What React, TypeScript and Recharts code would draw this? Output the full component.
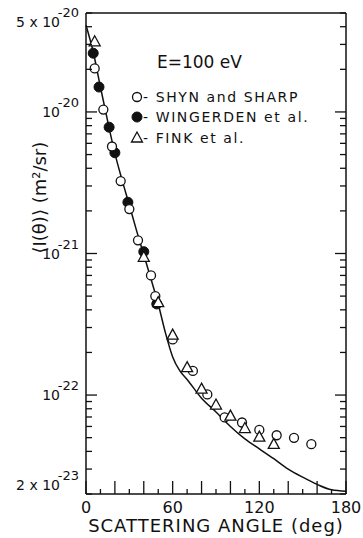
import React from "react";
import { ComposedChart, Line, Scatter, XAxis, YAxis, Legend } from "recharts";

// theory curve
const curveAngles = [0, 5, 10, 15, 20, 25, 30, 35, 40, 45, 50, 55, 60, 65, 70, 80, 90, 100, 110, 120, 130, 140, 150, 160, 170, 180];
const curveValues = [
  4.1e-20, 2.65e-20, 1.5e-20, 8.6e-21, 5.1e-21, 3.3e-21, 2.2e-21, 1.45e-21, 9.8e-22, 6.6e-22,
  4.4e-22, 2.75e-22, 1.86e-22, 1.48e-22, 1.29e-22, 9.5e-23, 7.6e-23, 6.0e-23, 4.9e-23, 4.17e-23,
  3.55e-23, 3.0e-23, 2.63e-23, 2.34e-23, 2.14e-23, 2.09e-23,
];

// Shyn and Sharp (open circles)
const shynAngles = [6, 12, 18, 24, 30, 36, 45, 48, 60, 74, 84, 96, 108, 120, 132, 144, 156];
const shynValues = [
  2.03e-20, 1.04e-20, 5.7e-21, 3.25e-21, 2.06e-21, 1.24e-21, 7.0e-22, 5.0e-22, 2.47e-22,
  1.48e-22, 1.01e-22, 6.95e-23, 6.4e-23, 5.67e-23, 5.2e-23, 4.99e-23, 4.5e-23,
];

// Wingerden et al. (filled circles)
const wingerdenAngles = [5, 9, 16, 20, 29, 40, 49];
const wingerdenValues = [2.6e-20, 1.5e-20, 7.8e-21, 5.15e-21, 2.3e-21, 1.03e-21, 4.4e-22];

// Fink et al. (triangles)
const finkAngles = [6, 40, 50, 60, 70, 80, 90, 100, 110, 120, 130];
const finkValues = [3.13e-20, 9.4e-22, 4.5e-22, 2.65e-22, 1.56e-22, 1.1e-22, 8.5e-23, 7.1e-23, 5.8e-23, 5.04e-23, 4.48e-23];

const xTicks = [0, 10, 20, 30, 40, 50, 60, 70, 80, 90, 100, 110, 120, 130, 140, 150, 160, 170, 180];
const xLabels = [0, 60, 120, 180];
const yMin = 2e-23;
const yMax = 5e-20;
const yExps = [-23, -22, -21, -20];
const yMantissas = [1, 2, 3, 4, 5, 6, 7, 8, 9];
const yLabels = [
  { value: 5e-20, text: "5 x 10", exp: "-20" },
  { value: 1e-20, text: "10", exp: "-20" },
  { value: 1e-21, text: "10", exp: "-21" },
  { value: 1e-22, text: "10", exp: "-22" },
  { value: 2e-23, text: "2 x 10", exp: "-23" },
];

const toPoints = (xs: number[], ys: number[]) => xs.map((x, i) => ({ x, y: ys[i] }));
const curveData = toPoints(curveAngles, curveValues);
const shynData = toPoints(shynAngles, shynValues);
const wingerdenData = toPoints(wingerdenAngles, wingerdenValues);
const finkData = toPoints(finkAngles, finkValues);

const yTicks: number[] = [];
yExps.forEach((e) => yMantissas.forEach((m) => {
  const v = Number(`${m}e${e}`);
  if (v >= yMin && v <= yMax) yTicks.push(v);
}));

const FONT = "'DejaVu Sans', sans-serif";
const INK = "#111";

const isDecade = (v: number) => {
  const l = Math.log10(v);
  return Math.abs(l - Math.round(l)) < 1e-6;
};
const findLabel = (v: number) => yLabels.find((l) => Math.abs(v / l.value - 1) < 1e-6);

const LeftTick = (props: any) => {
  const { x, y, payload } = props;
  const v = payload.value;
  const len = isDecade(v) ? 11 : 6;
  const lab = findLabel(v);
  let shift = 0;
  if (lab && lab.value === yMax) shift = 9;
  if (lab && lab.value === yMin) shift = -9;
  return (
    <g>
      <line x1={x} x2={x + len} y1={y} y2={y} stroke={INK} strokeWidth={1.3} />
      {lab && (
        <g fontFamily={FONT} fill={INK}>
          <text x={x - 26} y={y + 5 + shift} textAnchor="end" fontSize={14}>{lab.text}</text>
          <text x={x - 7} y={y - 5 + shift} textAnchor="end" fontSize={13}>{lab.exp}</text>
        </g>
      )}
    </g>
  );
};

const RightTick = (props: any) => {
  const { x, y, payload } = props;
  const len = isDecade(payload.value) ? 11 : 6;
  return <line x1={x} x2={x - len} y1={y} y2={y} stroke={INK} strokeWidth={1.3} />;
};

const BottomTick = (props: any) => {
  const { x, y, payload } = props;
  const v = payload.value;
  const len = v % 20 === 0 ? 13 : 5;
  return (
    <g>
      <line x1={x} x2={x} y1={y} y2={y - len} stroke={INK} strokeWidth={1.3} />
      {xLabels.includes(v) && (
        <text x={x} y={y + 19} textAnchor="middle" fontSize={16} fontFamily={FONT} fill={INK}>{v}</text>
      )}
    </g>
  );
};

const TopTick = (props: any) => {
  const { x, y, payload } = props;
  const len = payload.value % 20 === 0 ? 12 : 4;
  return <line x1={x} x2={x} y1={y} y2={y + len} stroke={INK} strokeWidth={1.3} />;
};

const OpenCircle = (props: any) => (
  <circle cx={props.cx} cy={props.cy} r={4.5} fill="#fff" stroke={INK} strokeWidth={1.3} />
);
const FilledCircle = (props: any) => (
  <circle cx={props.cx} cy={props.cy} r={5} fill={INK} stroke={INK} strokeWidth={1} />
);
const Triangle = (props: any) => {
  const { cx, cy } = props;
  return (
    <polygon
      points={`${cx},${cy - 6} ${cx - 5.5},${cy + 4} ${cx + 5.5},${cy + 4}`}
      fill="#fff"
      stroke={INK}
      strokeWidth={1.3}
    />
  );
};

const legendRows = [
  { name: "SHYN and SHARP", Shape: OpenCircle, y: 97 },
  { name: "WINGERDEN et al.", Shape: FilledCircle, y: 117 },
  { name: "FINK et al.", Shape: Triangle, y: 138 },
];

const LegendBox = () => (
  <svg width={363} height={160} style={{ display: "block" }}>
    <text x={157} y={68} fontSize={17} fontFamily={FONT} fill={INK}>E=100 eV</text>
    {legendRows.map(({ name, Shape, y }) => (
      <g key={name}>
        <Shape cx={137} cy={y} />
        <text x={143} y={y + 5} fontSize={14} letterSpacing={1.6} fontFamily={FONT} fill={INK}>
          - {name}
        </text>
      </g>
    ))}
  </svg>
);

export default function App() {
  return (
    <div style={{ position: "absolute", left: 0, top: 0 }}>
      <ComposedChart width={363} height={538} margin={{ top: 8, right: 7, bottom: 4, left: 26 }}>
        <XAxis
          dataKey="x"
          type="number"
          domain={[0, 180]}
          ticks={xTicks}
          interval={0}
          height={40}
          tickSize={0}
          tickMargin={0}
          tickLine={false}
          tick={<BottomTick />}
          axisLine={{ stroke: INK, strokeWidth: 1.5 }}
          label={{ value: "SCATTERING ANGLE (deg)", position: "insideBottom", offset: 2, fontSize: 18, fill: INK, fontFamily: FONT, letterSpacing: 1 }}
        />
        <XAxis
          xAxisId="top"
          orientation="top"
          type="number"
          domain={[0, 180]}
          ticks={xTicks}
          interval={0}
          height={5}
          tickSize={0}
          tickMargin={0}
          tickLine={false}
          tick={<TopTick />}
          axisLine={{ stroke: INK, strokeWidth: 1.5 }}
        />
        <YAxis
          dataKey="y"
          scale="log"
          domain={[yMin, yMax]}
          allowDataOverflow
          ticks={yTicks}
          interval={0}
          width={60}
          tickSize={0}
          tickMargin={0}
          tickLine={false}
          tick={<LeftTick />}
          axisLine={{ stroke: INK, strokeWidth: 1.5 }}
          label={{ value: "⟨I(θ)⟩ (m²/sr)", angle: -90, position: "insideLeft", offset: 0, dx: 14, fontSize: 18, fill: INK, fontFamily: FONT }}
        />
        <YAxis
          yAxisId="right"
          orientation="right"
          scale="log"
          domain={[yMin, yMax]}
          allowDataOverflow
          ticks={yTicks}
          interval={0}
          width={10}
          tickSize={0}
          tickMargin={0}
          tickLine={false}
          tick={<RightTick />}
          axisLine={{ stroke: INK, strokeWidth: 1.5 }}
        />
        <Line data={curveData} dataKey="y" type="monotone" stroke={INK} strokeWidth={1.5} dot={false} isAnimationActive={false} />
        <Scatter data={wingerdenData} dataKey="y" shape={<FilledCircle />} isAnimationActive={false} />
        <Scatter data={shynData} dataKey="y" shape={<OpenCircle />} isAnimationActive={false} />
        <Scatter data={finkData} dataKey="y" shape={<Triangle />} isAnimationActive={false} />
        <Legend
          layout="vertical"
          align="center"
          verticalAlign="middle"
          wrapperStyle={{ position: "absolute", left: 0, top: 0, width: 363, height: 160 }}
          content={() => <LegendBox />}
        />
      </ComposedChart>
    </div>
  );
}
